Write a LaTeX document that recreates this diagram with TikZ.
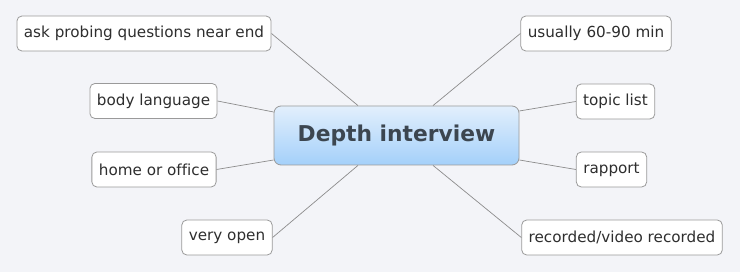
\documentclass[tikz,border=0pt]{standalone}
\usepackage{fontspec}
\setmainfont[Ligatures=NoCommon]{DejaVu Sans}
\usepackage{tikz}
\usepackage{xcolor}
\definecolor{paper}   {HTML}{F3F4F8}
\definecolor{ink}     {HTML}{2E2E2E}
\definecolor{rimgray} {HTML}{9A9A9A}
\definecolor{wiregray}{HTML}{8C8C8C}
\definecolor{hubtop}  {HTML}{E2EFFC}
\definecolor{hubbot}  {HTML}{A4D0FA}
\definecolor{hubink}  {HTML}{3C4650}

\begin{document}
\begin{tikzpicture}[x=1pt,y=-1pt,
    leaf/.style={draw=rimgray,fill=white,rounded corners=5pt,line width=0.8pt,
      inner xsep=7pt,inner ysep=0pt,minimum height=35pt,text=ink,
      font=\fontsize{15.2}{18}\selectfont},
    hub/.style={draw=rimgray,top color=hubtop,bottom color=hubbot,rounded corners=7pt,
      line width=0.8pt,minimum width=245pt,minimum height=59pt,text=hubink,
      font=\fontsize{21.8}{26}\selectfont\bfseries},
    wire/.style={wiregray,line width=0.7pt}]
        \fill[paper] (0,0) rectangle (740,272);
        \useasboundingbox (0,0) rectangle (740,272);

        \node[hub] (hub) at (396.5,135.5) {Depth interview};

        % hooks on the hub where the wires meet it
        \coordinate (hub-nw) at ([xshift=-38.5pt]hub.north);
        \coordinate (hub-ne) at ([xshift=36.5pt]hub.north);
        \coordinate (hub-sw) at ([xshift=-38.5pt]hub.south);
        \coordinate (hub-se) at ([xshift=36.5pt]hub.south);
        \coordinate (hub-wn) at ([yshift=23.5pt]hub.west);
        \coordinate (hub-ws) at ([yshift=-24.5pt]hub.west);
        \coordinate (hub-en) at ([yshift=24.5pt]hub.east);
        \coordinate (hub-es) at ([yshift=-24.5pt]hub.east);

        \foreach \nm/\xx/\yy/\lab in {ask/144/33.5/{ask probing questions near end},
            body/153.5/101/{body language},home/154/169.5/{home or office},
            open/227/237.5/{very open},usual/596/33.5/{usually 60-90 min},
            topic/615.5/101.5/{topic list},rapport/611.5/169.5/{rapport},
            taped/622/237.5/{recorded/video recorded}} {
          \node[leaf] (\nm) at (\xx,\yy) {\lab};
        }

        \foreach \nm/\side/\hook in {ask/east/nw,body/east/wn,home/east/ws,open/east/sw,
            usual/west/ne,topic/west/en,rapport/west/es,taped/west/se} {
          \draw[wire] (\nm.\side) -- (hub-\hook);
        }
      \end{tikzpicture}
\end{document}
